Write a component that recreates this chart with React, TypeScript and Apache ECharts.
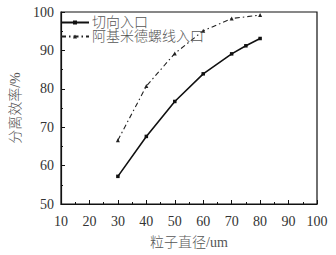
import React, { useEffect, useRef } from "react";
import * as echarts from "echarts";

const seriesNames = ["切向入口", "阿基米德螺线入口"];
const tangentialX = [30, 40, 50, 60, 70, 75, 80];
const tangentialY = [57.2, 67.6, 76.7, 83.9, 89.1, 91.2, 93.1];
const spiralX = [30, 40, 50, 60, 70, 80];
const spiralY = [66.6, 80.7, 89.2, 95.1, 98.3, 99.2];
const xTicks = { min: 10, max: 100, interval: 10 };
const yTicks = { min: 50, max: 100, interval: 10 };
const xName = "粒子直径/um";
const yName = "分离效率/%";

export default function App() {
  const ref = useRef<HTMLDivElement>(null);
  useEffect(() => {
    const chart = echarts.init(ref.current!, null, { renderer: "svg" });
    const serif = "'Liberation Serif', 'Times New Roman', serif";
    const cjk = "'Liberation Serif', 'Noto Sans CJK SC', serif";
    chart.setOption({
      animation: false,
      backgroundColor: "#fff",
      grid: { left: 57, right: 19, top: 12, bottom: 51, show: true, borderColor: "#111", borderWidth: 1.2 },
      legend: {
        left: 60,
        top: 15.5,
        padding: 0,
        orient: "vertical",
        itemWidth: 28,
        itemHeight: 5,
        itemGap: 0,
        textStyle: { fontFamily: cjk, fontSize: 14, lineHeight: 12.5, color: "#555", fontWeight: 300, padding: [0, 0, 0, -2] },
        data: seriesNames,
      },
      xAxis: {
        type: "value",
        min: xTicks.min,
        max: xTicks.max,
        interval: xTicks.interval,
        name: xName,
        nameLocation: "middle",
        nameGap: 31,
        nameTextStyle: { fontFamily: cjk, fontSize: 14, color: "#555", fontWeight: 300 },
        axisLine: { lineStyle: { color: "#111", width: 1.2 } },
        axisTick: { inside: true, length: 4, lineStyle: { color: "#111" } },
        minorTick: { show: true, splitNumber: 2, length: 2, lineStyle: { color: "#111" } },
        splitLine: { show: false },
        axisLabel: { fontFamily: serif, fontSize: 14, color: "#333", margin: 10 },
      },
      yAxis: {
        type: "value",
        min: yTicks.min,
        max: yTicks.max,
        interval: yTicks.interval,
        name: yName,
        nameLocation: "middle",
        nameGap: 39,
        nameTextStyle: { fontFamily: cjk, fontSize: 14, color: "#555", fontWeight: 300 },
        axisLine: { show: true, lineStyle: { color: "#111", width: 1.2 } },
        axisTick: { show: true, inside: true, length: 4, lineStyle: { color: "#111" } },
        minorTick: { show: true, splitNumber: 2, length: 2, lineStyle: { color: "#111" } },
        splitLine: { show: false },
        axisLabel: { fontFamily: serif, fontSize: 14, color: "#333", margin: 7 },
      },
      series: [
        {
          name: seriesNames[0],
          type: "line",
          data: tangentialX.map((x, i) => [x, tangentialY[i]]),
          symbol: "rect",
          symbolSize: 3.5,
          itemStyle: { color: "#111" },
          lineStyle: { color: "#111", width: 1.6 },
        },
        {
          name: seriesNames[1],
          type: "line",
          data: spiralX.map((x, i) => [x, spiralY[i]]),
          symbol: "triangle",
          symbolSize: 4,
          itemStyle: { color: "#222" },
          lineStyle: { color: "#222", width: 1.1, type: [5, 3, 1.5, 3] },
        },
      ],
    });
    return () => chart.dispose();
  }, []);
  return <div ref={ref} style={{ position: "fixed", left: 0, top: 0, width: 336, height: 255 }} />;
}
